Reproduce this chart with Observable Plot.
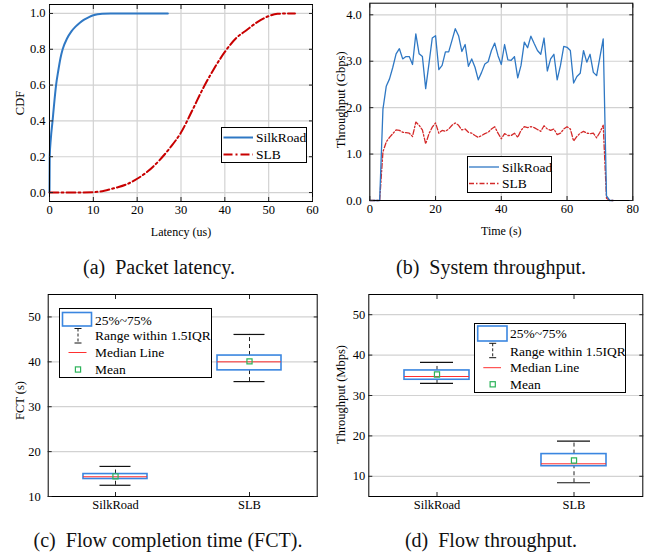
<!DOCTYPE html>
<html><head><meta charset="utf-8">
<script src="https://cdn.jsdelivr.net/npm/d3@7"></script>
<script src="https://cdn.jsdelivr.net/npm/@observablehq/plot@0.6"></script>
<style>
body{margin:0;background:#fff;}
#root{position:relative;width:649px;height:556px;overflow:hidden;font-family:"Liberation Serif",serif;}
#root svg.p{position:absolute;}
.cap{position:absolute;font-family:"Liberation Serif",serif;font-size:20px;white-space:pre;transform:translateX(-50%);color:#111;line-height:22px;}
.legend{position:absolute;background:#fff;border:1px solid #000;box-sizing:border-box;}
.legend svg{position:absolute;left:0;top:0;overflow:visible;}
</style></head><body><div id="root"></div>
<script>
// ---------- data ----------
// (a) latency CDF
const latSilkRoadX = [0, 0.05, 0.3, 0.7, 1.0, 1.5, 2, 2.5, 3, 4, 5, 6, 7, 8, 9, 10, 11, 12, 14, 27];
const latSilkRoadCdf = [0, 0.2, 0.3, 0.4, 0.48, 0.6, 0.68, 0.75, 0.8, 0.86, 0.9, 0.928, 0.95, 0.967, 0.98, 0.99, 0.996, 0.999, 1, 1];
const latSlbX = [0, 5, 10, 12.5, 15, 17.5, 20, 22.5, 25, 27.5, 30, 32.5, 35, 37.5, 40, 42.5, 45, 47.5, 50, 52, 54, 56];
const latSlbCdf = [0, 0, 0.002, 0.01, 0.026, 0.045, 0.077, 0.12, 0.178, 0.25, 0.335, 0.455, 0.58, 0.69, 0.785, 0.86, 0.908, 0.953, 0.985, 0.998, 1.0, 1.0];
const latTicks = [0, 10, 20, 30, 40, 50, 60];
const cdfTicks = [0, 0.2, 0.4, 0.6, 0.8, 1.0];

// (b) system throughput over time (Gbps), one value per second, t = 0..74
const timeSec = d3.range(0, 75);
const thrSilkRoad = [0,0,0,0,1.97,2.46,2.62,2.87,3.16,3.27,3.05,3.1,3.1,2.93,3.59,3.16,3.1,2.41,2.95,3.5,
  3.55,2.82,2.91,3.2,3.2,3.45,3.7,3.55,3.21,3.36,2.89,3.05,2.87,2.6,2.76,2.94,2.99,3.23,3.39,3.12,
  2.93,3.36,3.03,3.02,3.1,2.64,2.91,3.41,3.29,3.54,3.38,3.23,3.15,3.5,2.79,3.05,3.15,2.6,2.91,3.32,
  3.3,3.23,2.53,2.67,2.74,3.23,2.98,3.15,2.76,2.69,3.09,3.48,0.1,0,0];
const thrSlb = [0,0,0,0,1.05,1.26,1.36,1.44,1.52,1.51,1.47,1.46,1.45,1.38,1.69,1.62,1.52,1.22,1.44,1.58,
  1.67,1.45,1.51,1.49,1.54,1.62,1.67,1.62,1.52,1.54,1.47,1.45,1.4,1.36,1.4,1.44,1.47,1.54,1.59,1.45,
  1.33,1.44,1.4,1.4,1.45,1.36,1.51,1.59,1.57,1.59,1.57,1.53,1.49,1.61,1.54,1.51,1.54,1.42,1.45,1.54,
  1.59,1.54,1.28,1.38,1.45,1.49,1.45,1.44,1.45,1.35,1.47,1.62,0.05,0,0];
const timeTicks = [0, 20, 40, 60, 80];
const gbpsTicks = [0, 1, 2, 3, 4];

// (c) flow completion time box statistics (s)
const systems = ["SilkRoad", "SLB"];
const fctMin = [12.5, 35.6];
const fctQ1 = [13.9, 38.1];
const fctMedian = [14.4, 40.0];
const fctQ3 = [15.0, 41.4];
const fctMax = [16.7, 46.1];
const fctMean = [14.5, 40.1];
const fctTicks = [10, 20, 30, 40, 50];

// (d) flow throughput box statistics (Mbps)
const ftMin = [33.0, 8.4];
const ftQ1 = [33.9, 12.5];
const ftMedian = [34.7, 13.1];
const ftQ3 = [36.2, 15.5];
const ftMax = [38.2, 18.7];
const ftMean = [35.2, 13.9];
const ftTicks = [10, 20, 30, 40, 50];

// ---------- styles ----------
const BLUE = "#2f78c4", RED = "#c80000", RED2 = "#d42a2a";
const BOX = "#3a86e0", MED = "#ff3030", MEAN = "#2db35a", GRID = "#d2d2d2";
const root = document.getElementById("root");
const baseStyle = {fontFamily: "Liberation Serif, serif", fontSize: "12px", color: "#000", background: "transparent", overflow: "visible"};
const fmt1 = d3.format(".1f");
const blank = () => "";

function place(svg, left, top) {
  svg.classList.add("p");
  svg.style.left = left + "px";
  svg.style.top = top + "px";
  root.appendChild(svg);
}

function frameAxes(xt, yt, xfmt, yfmt, ypad) {
  return [
    Plot.frame({stroke: "#000", strokeWidth: 1}),
    Plot.axisX(xt, {anchor: "bottom", tickSize: -4, tickPadding: 8, tickFormat: xfmt, label: null, stroke: "#222", fontSize: 12.5}),
    Plot.axisX(xt, {anchor: "top", tickSize: -4, tickFormat: blank, label: null, stroke: "#222"}),
    Plot.axisY(yt, {anchor: "left", tickSize: -4, tickPadding: ypad, tickFormat: yfmt, label: null, stroke: "#222", fontSize: 12.5}),
    Plot.axisY(yt, {anchor: "right", tickSize: -4, tickFormat: blank, label: null, stroke: "#222"})
  ];
}
function yLabel(s, dx, dy) {
  return Plot.text([s], {text: d => d, frameAnchor: "left", textAnchor: "middle", lineAnchor: "middle", rotate: -90, dx, dy, fontSize: 12.5});
}
function xLabel(s, dy) {
  return Plot.text([s], {text: d => d, frameAnchor: "bottom", textAnchor: "middle", lineAnchor: "middle", dy, fontSize: 12});
}

// (a)
const silkLat = latSilkRoadX.map((x, i) => ({x, y: latSilkRoadCdf[i]}));
const slbLat = latSlbX.map((x, i) => ({x, y: latSlbCdf[i]}));
place(Plot.plot({
  width: 320, height: 240, marginLeft: 49, marginRight: 8, marginTop: 4, marginBottom: 39,
  style: baseStyle,
  x: {domain: [0, 60]}, y: {domain: [-0.05, 1.05]},
  marks: [
    Plot.gridX(latTicks, {stroke: GRID, strokeOpacity: 1, strokeWidth: 1.2}),
    Plot.gridY(cdfTicks, {stroke: GRID, strokeOpacity: 1, strokeWidth: 1.2}),
    Plot.line(silkLat, {x: "x", y: "y", stroke: BLUE, strokeWidth: 2, curve: "monotone-x"}),
    Plot.line(slbLat, {x: "x", y: "y", stroke: RED, strokeWidth: 2, strokeDasharray: "9,3,2,3", curve: "monotone-x"}),
    ...frameAxes(latTicks, cdfTicks, d => String(d), fmt1, 8),
    yLabel("CDF", -30, 0),
    xLabel("Latency (us)", 30.5)
  ]
}), 0, 0);

// (b)
const thrRows = timeSec.map((t, i) => ({t, silk: thrSilkRoad[i], slb: thrSlb[i]}));
place(Plot.plot({
  width: 329, height: 240, marginLeft: 49.3, marginRight: 16.7, marginTop: 2.7, marginBottom: 40,
  style: baseStyle,
  x: {domain: [0, 80]}, y: {domain: [0, 4.25]},
  marks: [
    Plot.gridX(timeTicks, {stroke: GRID, strokeOpacity: 1, strokeWidth: 1.2}),
    Plot.gridY(gbpsTicks, {stroke: GRID, strokeOpacity: 1, strokeWidth: 1.2}),
    Plot.line(thrRows, {x: "t", y: "slb", stroke: RED2, strokeWidth: 1.3, strokeDasharray: "5,2,1.5,2"}),
    Plot.line(thrRows, {x: "t", y: "silk", stroke: BLUE, strokeWidth: 1.3}),
    ...frameAxes(timeTicks, gbpsTicks, d => String(d), fmt1, 12),
    yLabel("Throughput (Gbps)", -28.5, -2),
    xLabel("Time (s)", 31)
  ]
}), 320, 0);

// box plots
function boxPlot({stats, yDomain, yTicks, width, height, ml, mr, mt, mb, boxInset, capInset, ypad, ylabel, ldx, ldy}) {
  return Plot.plot({
    width, height, marginLeft: ml, marginRight: mr, marginTop: mt, marginBottom: mb,
    style: baseStyle,
    x: {type: "band", domain: systems, padding: 0}, y: {domain: yDomain},
    marks: [
      Plot.gridY(yTicks, {stroke: GRID, strokeOpacity: 1, strokeWidth: 1.2}),
      Plot.ruleX(stats, {x: "name", y1: "q3", y2: "max", stroke: "#222", strokeDasharray: "4,3"}),
      Plot.ruleX(stats, {x: "name", y1: "min", y2: "q1", stroke: "#222", strokeDasharray: "4,3"}),
      Plot.tickY(stats, {x: "name", y: "max", stroke: "#111", strokeWidth: 1.2, insetLeft: capInset, insetRight: capInset}),
      Plot.tickY(stats, {x: "name", y: "min", stroke: "#111", strokeWidth: 1.2, insetLeft: capInset, insetRight: capInset}),
      Plot.barY(stats, {x: "name", y1: "q1", y2: "q3", fill: "none", stroke: BOX, strokeWidth: 1.6, insetLeft: boxInset, insetRight: boxInset}),
      Plot.tickY(stats, {x: "name", y: "median", stroke: MED, strokeWidth: 1, insetLeft: boxInset, insetRight: boxInset}),
      Plot.dot(stats, {x: "name", y: "mean", symbol: "square", r: 2.9, stroke: MEAN, strokeWidth: 1.2, fill: "none"}),
      Plot.frame({stroke: "#000", strokeWidth: 1}),
      Plot.axisX(systems, {anchor: "bottom", tickSize: -4, tickPadding: 8, label: null, stroke: "#222", fontSize: 12.5}),
      Plot.axisX(systems, {anchor: "top", tickSize: -4, tickFormat: blank, label: null, stroke: "#222"}),
      Plot.axisY(yTicks, {anchor: "left", tickSize: -4, tickPadding: ypad, label: null, stroke: "#222", fontSize: 12.5}),
      Plot.axisY(yTicks, {anchor: "right", tickSize: -4, tickFormat: blank, label: null, stroke: "#222"}),
      yLabel(ylabel, ldx, ldy)
    ]
  });
}
const fctStats = systems.map((name, i) => ({name, min: fctMin[i], q1: fctQ1[i], median: fctMedian[i], q3: fctQ3[i], max: fctMax[i], mean: fctMean[i]}));
const ftStats = systems.map((name, i) => ({name, min: ftMin[i], q1: ftQ1[i], median: ftMedian[i], q3: ftQ3[i], max: ftMax[i], mean: ftMean[i]}));

place(boxPlot({stats: fctStats, yDomain: [10, 55], yTicks: fctTicks, width: 320, height: 230,
  ml: 47.7, mr: 3.3, mt: 4, mb: 24, boxInset: 35, capInset: 51.5, ypad: 11.5, ylabel: "FCT (s)", ldx: -28.5, ldy: 5}), 0, 290);
place(boxPlot({stats: ftStats, yDomain: [5, 55], yTicks: ftTicks, width: 329, height: 230,
  ml: 48.3, mr: 6.7, mt: 4, mb: 24, boxInset: 36, capInset: 52, ypad: 7.5, ylabel: "Throughput (Mbps)", ldx: -27.5, ldy: -1}), 320, 290);

// ---------- legends (HTML overlays) ----------
function legend(left, top, w, h, inner) {
  const d = document.createElement("div");
  d.className = "legend";
  Object.assign(d.style, {left: left + "px", top: top + "px", width: w + "px", height: h + "px"});
  d.innerHTML = `<svg width="${w}" height="${h}" font-family="Liberation Serif, serif" font-size="13.5">${inner}</svg>`;
  root.appendChild(d);
}
function txt(x, y, s) { return `<text x="${x}" y="${y}" dominant-baseline="central" fill="#000">${s}</text>`; }

legend(221, 127, 86, 36,
  `<line x1="1.5" x2="31" y1="9.5" y2="9.5" stroke="${BLUE}" stroke-width="2"/>` + txt(34, 9.5, "SilkRoad") +
  `<line x1="1.5" x2="31" y1="26.5" y2="26.5" stroke="${RED}" stroke-width="2" stroke-dasharray="9,3,2,3"/>` + txt(34, 26.5, "SLB"));

legend(467, 156, 85, 37,
  `<line x1="1" x2="31" y1="10" y2="10" stroke="${BLUE}" stroke-width="1.3"/>` + txt(34, 10, "SilkRoad") +
  `<line x1="1" x2="31" y1="26.5" y2="26.5" stroke="${RED2}" stroke-width="1.3" stroke-dasharray="5,2,1.5,2"/>` + txt(34, 26.5, "SLB"));

function boxLegend(left, top, w, h, o) {
  legend(left, top, w, h,
    `<rect x="${o.rx}" y="${o.ry}" width="${o.rw}" height="${o.rh}" fill="none" stroke="${BOX}" stroke-width="1.6"/>` +
    `<line x1="${o.wx}" x2="${o.wx}" y1="${o.wy1}" y2="${o.wy2}" stroke="#222" stroke-dasharray="3,2"/>` +
    `<line x1="${o.wx - 3.5}" x2="${o.wx + 3.5}" y1="${o.wy1}" y2="${o.wy1}" stroke="#111"/>` +
    `<line x1="${o.wx - 3.5}" x2="${o.wx + 3.5}" y1="${o.wy2}" y2="${o.wy2}" stroke="#111"/>` +
    `<line x1="${o.mx1}" x2="${o.mx2}" y1="${o.my}" y2="${o.my}" stroke="${MED}"/>` +
    `<rect x="${o.wx - 2.6}" y="${o.ey - 2.6}" width="5.2" height="5.2" fill="none" stroke="${MEAN}" stroke-width="1.2"/>` +
    txt(o.tx, o.rows[0], "25%~75%") + txt(o.tx, o.rows[1], "Range within 1.5IQR") +
    txt(o.tx, o.rows[2], "Median Line") + txt(o.tx, o.rows[3], "Mean"));
}
boxLegend(59, 308, 153, 70, {rx: 2.5, ry: 3.5, rw: 29, rh: 13.5, wx: 18, wy1: 19.5, wy2: 34, mx1: 8.5, mx2: 26.5, my: 43.5, ey: 60.5, tx: 35, rows: [11, 26.5, 43.5, 60.5]});
boxLegend(474, 323, 152, 70, {rx: 2.7, ry: 2, rw: 29.3, rh: 15, wx: 17.7, wy1: 19.3, wy2: 33.7, mx1: 8.3, mx2: 26, my: 43.7, ey: 60.3, tx: 35, rows: [9.7, 27, 43.7, 60.3]});

// ---------- captions ----------
function caption(cx, top, s) {
  const d = document.createElement("div");
  d.className = "cap";
  d.style.left = cx + "px"; d.style.top = top + "px";
  d.textContent = s;
  root.appendChild(d);
}
caption(159, 256, "(a)  Packet latency.");
caption(491, 256, "(b)  System throughput.");
caption(168, 529, "(c)  Flow completion time (FCT).");
caption(491, 529, "(d)  Flow throughput.");
</script></body></html>
